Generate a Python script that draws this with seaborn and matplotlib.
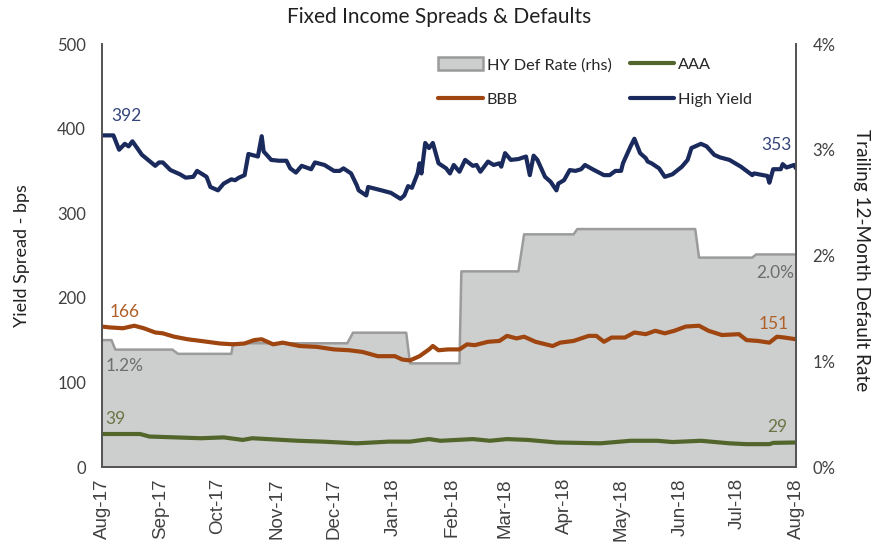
import numpy as np
import pandas as pd
import matplotlib
matplotlib.use("Agg")
import matplotlib.pyplot as plt
import matplotlib.dates as mdates
from matplotlib.patches import Patch
from matplotlib.lines import Line2D
import seaborn as sns

# ---------------- data ----------------
start_date = "2017-08-01"
end_date = "2018-08-01"

# High Yield spread (bps): day offset from start, value
hy_days = [0, 6, 9, 12, 14, 16, 21, 28, 30, 32, 36, 41, 44, 48, 50, 55, 57, 61, 64, 68,
           70, 72, 75, 77, 82, 84, 85, 89, 93, 97, 99, 102, 105, 110, 112, 117, 122, 125, 127, 131,
           134, 135, 139, 140, 147, 152, 157, 159, 161, 163, 166, 167, 168, 170, 172, 174, 177, 181, 183, 185,
           188, 191, 195, 197, 199, 203, 206, 209, 210, 212, 215, 219, 223, 225, 227, 229, 233, 236, 239, 240,
           243, 246, 249, 252, 254, 258, 264, 267, 270, 273, 274, 278, 280, 283, 286, 287, 289, 293, 296, 300,
           305, 308, 310, 315, 318, 322, 325, 330, 336, 342, 343, 350, 351, 353, 357, 358, 360, 364, 365]
hy_vals = [392, 392, 375, 382, 379, 385, 369, 356, 360, 360, 351, 346, 342, 343, 350, 343, 331, 327, 335, 340,
           339, 342, 345, 370, 367, 391, 373, 363, 362, 362, 353, 348, 356, 352, 360, 357, 350, 350, 353, 347,
           333, 327, 321, 331, 327, 324, 317, 321, 332, 330, 347, 359, 347, 383, 377, 383, 359, 353, 347, 357,
           349, 363, 356, 357, 349, 361, 357, 359, 355, 371, 363, 364, 367, 345, 368, 363, 343, 337, 327, 335,
           339, 351, 350, 352, 357, 352, 345, 345, 350, 350, 359, 379, 388, 371, 365, 361, 359, 353, 343, 346,
           355, 363, 377, 382, 379, 369, 366, 363, 355, 345, 347, 344, 336, 352, 352, 358, 354, 357, 353]

# BBB spread (bps)
bbb_days = [0, 4, 11, 17, 22, 28, 32, 38, 45, 52, 62, 69, 75, 80, 84, 90, 95, 104, 113, 122,
            130, 137, 145, 154, 158, 162, 167, 172, 174, 177, 182, 188, 192, 196, 203, 209, 213, 218, 222, 228,
            237, 241, 248, 256, 260, 264, 268, 275, 280, 286, 291, 296, 301, 307, 314, 319, 326, 335, 339, 345,
            351, 355, 359, 365]
bbb_vals = [166, 165, 164, 167, 164, 159, 158, 154, 151, 149, 146, 145, 146, 150, 151, 145, 147, 143, 142, 139,
            138, 136, 131, 131, 127, 126, 131, 139, 143, 138, 139, 139, 145, 144, 148, 149, 155, 152, 154, 148,
            143, 147, 149, 155, 155, 148, 153, 153, 159, 157, 161, 158, 161, 166, 167, 161, 156, 157, 150, 149,
            147, 154, 153, 151]

# AAA spread (bps)
aaa_days = [0, 15, 20, 25, 52, 64, 74, 79, 103, 116, 134, 151, 162, 172, 178, 195, 204, 213, 224, 239,
            262, 278, 292, 300, 315, 330, 339, 351, 353, 365]
aaa_vals = [39, 39, 39, 36, 34, 35, 32, 34, 31, 30, 28, 30, 30, 33, 31, 33, 31, 33, 32, 29,
            28, 31, 31, 29.5, 31, 28, 27, 27, 28.5, 29]

# HY trailing 12-month default rate (%)
dr_days = [0, 5, 7, 37, 40, 68, 69, 129, 132, 160, 162, 188, 189, 219, 222, 248, 250, 312, 314, 342, 344, 365]
dr_vals = [1.20, 1.20, 1.11, 1.11, 1.07, 1.07, 1.17, 1.17, 1.27, 1.27, 0.98, 0.98, 1.85, 1.85, 2.20, 2.20,
           2.25, 2.25, 1.98, 1.98, 2.01, 2.01]

title = "Fixed Income Spreads & Defaults"
left_label = "Yield Spread - bps"
right_label = "Trailing 12-Month Default Rate"
series_names = ["HY Def Rate (rhs)", "AAA", "BBB", "High Yield"]

# ---------------- styling ----------------
C_HY = "#1A2A5C"
C_BBB = "#9E4510"
C_AAA = "#52662C"
C_FILL = "#CDCECE"
C_EDGE = "#9B9B9B"
C_TEXT = "#404040"
LW = 3.0


def to_dates(days):
    return pd.Timestamp(start_date) + pd.to_timedelta(np.asarray(days, dtype=float), unit="D")


hy = pd.DataFrame({"date": to_dates(hy_days), "val": hy_vals})
bbb = pd.DataFrame({"date": to_dates(bbb_days), "val": bbb_vals})
aaa = pd.DataFrame({"date": to_dates(aaa_days), "val": aaa_vals})
dr = pd.DataFrame({"date": to_dates(dr_days), "val": dr_vals})

sns.set_style("white")
plt.rcParams["font.family"] = ["Lato", "DejaVu Sans"]

fig = plt.figure(figsize=(8.9, 5.49), dpi=100)
ax = fig.add_axes([102 / 890, 1 - 467 / 549, 694 / 890, 423 / 549])
ax2 = ax.twinx()
ax.set_zorder(ax2.get_zorder() + 1)
ax.patch.set_visible(False)

# default rate area (right axis)
ax2.fill_between(dr["date"], dr["val"], 0, color=C_FILL, linewidth=0)
sns.lineplot(data=dr, x="date", y="val", ax=ax2, color=C_EDGE, linewidth=1.8, legend=False)

# spreads (left axis)
sns.lineplot(data=aaa, x="date", y="val", ax=ax, color=C_AAA, linewidth=LW, legend=False)
sns.lineplot(data=bbb, x="date", y="val", ax=ax, color=C_BBB, linewidth=LW, legend=False)
sns.lineplot(data=hy, x="date", y="val", ax=ax, color=C_HY, linewidth=LW, legend=False)

ax.set_xlim(pd.Timestamp(start_date), pd.Timestamp(end_date))
ax.set_ylim(0, 500)
ax.set_yticks(range(0, 501, 100))
ax2.set_ylim(0, 4)
ax2.set_yticks(range(0, 5))
ax2.yaxis.set_major_formatter(matplotlib.ticker.FuncFormatter(lambda v, p: f"{v:.0f}%"))

ax.xaxis.set_major_locator(mdates.MonthLocator())
ax.xaxis.set_major_formatter(mdates.DateFormatter("%b-%y"))

ax.tick_params(axis="x", length=0, pad=8, colors=C_TEXT, labelsize=13.5, labelrotation=90)
ax.tick_params(axis="y", length=0, pad=11.5, labelsize=12, colors=C_TEXT)
ax2.tick_params(axis="y", length=0, pad=12, labelsize=12, colors=C_TEXT)
for lab in ax.get_xticklabels():
    lab.set_family(["Liberation Sans", "DejaVu Sans"])

ax.set_xlabel("")
ax.set_ylabel(left_label, fontsize=13, color="#202020")
ax.yaxis.set_label_coords(-0.104, 0.5)
ax2.set_ylabel(right_label, fontsize=13.7, color="#202020", rotation=270, va="center")
ax2.yaxis.set_label_coords(1.095, 0.49)

for a in (ax, ax2):
    a.spines["top"].set_visible(False)
    a.grid(False)
    for side in ("left", "bottom", "right"):
        a.spines[side].set_color("#555555")
        a.spines[side].set_linewidth(1.3)

fig.text(439 / 890, 1 - 17 / 549, title, ha="center", va="center", fontsize=15, color="#202020")

# data labels
d0, d1 = hy["date"].iloc[0], hy["date"].iloc[-1]
ann = dict(textcoords="offset pixels", ha="center", va="center", fontsize=12.5)
ax.annotate(f"{hy_vals[0]:.0f}", xy=(d0, hy_vals[0]), xytext=(24, 19), color="#34457A", **ann)
ax.annotate(f"{bbb_vals[0]:.0f}", xy=(d0, bbb_vals[0]), xytext=(23, 15), color="#B05F28", **ann)
ax.annotate(f"{aaa_vals[0]:.0f}", xy=(d0, aaa_vals[0]), xytext=(13, 15), color="#6A7545", **ann)
ax2.annotate(f"{dr_vals[0]:.1f}%", xy=(d0, dr_vals[0]), xytext=(23, -26), color="#6E6E6E", **ann)
ax.annotate(f"{hy_vals[-1]:.0f}", xy=(d1, hy_vals[-1]), xytext=(-20, 23), color="#34457A", **ann)
ax.annotate(f"{bbb_vals[-1]:.0f}", xy=(d1, bbb_vals[-1]), xytext=(-22, 15), color="#B05F28", **ann)
ax.annotate(f"{aaa_vals[-1]:.0f}", xy=(d1, aaa_vals[-1]), xytext=(-19, 15), color="#6A7545", **ann)
ax2.annotate(f"{dr_vals[-1]:.1f}%", xy=(d1, dr_vals[-1]), xytext=(-21, -19), color="#6E6E6E", **ann)

handles = [
    Patch(facecolor=C_FILL, edgecolor=C_EDGE, linewidth=1.8),
    Line2D([], [], color=C_BBB, linewidth=LW),
    Line2D([], [], color=C_AAA, linewidth=LW),
    Line2D([], [], color=C_HY, linewidth=LW),
]
labels = [series_names[0], series_names[2], series_names[1], series_names[3]]
fig.legend(handles, labels, ncol=2, loc="upper left", bbox_to_anchor=(438 / 890, 1 - 57 / 549),
           frameon=False, fontsize=11.7, handlelength=2.75, handleheight=0.9, handletextpad=0.25,
           columnspacing=1.1, labelspacing=1.2, borderpad=0, borderaxespad=0, labelcolor="#262626")

fig.savefig("out.png", dpi=100)
